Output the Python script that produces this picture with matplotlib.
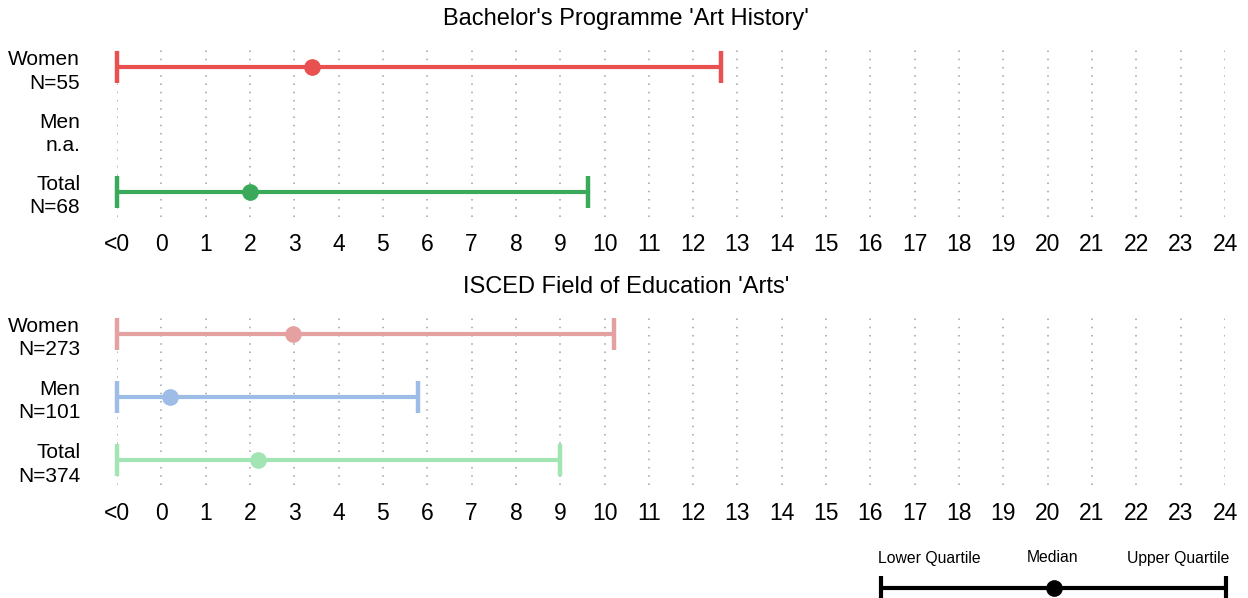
import matplotlib
matplotlib.use("Agg")
import matplotlib.pyplot as plt
import numpy as np

plt.rcParams['font.family'] = ['Liberation Sans', 'DejaVu Sans']

tick_labels = ["<0"] + [str(i) for i in range(25)]
tick_positions = list(range(-1, 25))

# Panel 1: Bachelor's Programme 'Art History'
title1 = "Bachelor's Programme 'Art History'"
groups1 = ["Women\nN=55", "Men\nn.a.", "Total\nN=68"]
lower1 = [-1, np.nan, -1]
median1 = [3.4, np.nan, 2.0]
upper1 = [12.63, np.nan, 9.62]
colors1 = ["#E8514F", "#9DBCE6", "#3AAA5A"]

# Panel 2: ISCED Field of Education 'Arts'
title2 = "ISCED Field of Education 'Arts'"
groups2 = ["Women\nN=273", "Men\nN=101", "Total\nN=374"]
lower2 = [-1, -1, -1]
median2 = [2.98, 0.2, 2.18]
upper2 = [10.22, 5.8, 9.0]
colors2 = ["#E5A1A1", "#9DBCE6", "#A3E4B5"]

W, H = 1248, 598
fig = plt.figure(figsize=(W / 100, H / 100), dpi=100)

def px_axes(x0, y0, x1, y1):
    return fig.add_axes([x0 / W, 1 - y1 / H, (x1 - x0) / W, (y1 - y0) / H])

def panel(ax, title, groups, lo, med, hi, colors, title_y, gmin, gmax):
    ax.set_xlim(-1, 24)
    ax.set_ylim(2.5, -0.5)
    for t in tick_positions:
        ax.axvline(t, ymin=gmin, ymax=gmax, color="#A0A0A0",
                   linestyle=(0, (1, 4.4)), linewidth=1.1, zorder=0)
    for i, (l, m, h, c) in enumerate(zip(lo, med, hi, colors)):
        if np.isnan(m):
            continue
        ax.errorbar([m], [i], xerr=[[m - l], [h - m]], fmt='o', color=c,
                    ecolor=c, elinewidth=3, capsize=11.5, capthick=3.2,
                    markersize=11, clip_on=False, zorder=3)
    ax.set_yticks(range(len(groups)))
    ax.set_yticklabels(groups, fontsize=15, linespacing=1.3)
    ax.set_xticks(tick_positions)
    ax.set_xticklabels(tick_labels, fontsize=16.5)
    ax.tick_params(length=0, axis='x', pad=7)
    ax.tick_params(length=0, axis='y', pad=26.5)
    for s in ax.spines.values():
        s.set_visible(False)
    ax.set_facecolor("none")
    fig.text(626 / W, 1 - title_y / H, title, ha="center",
             va="center", fontsize=17)

ax1 = px_axes(117, 36, 1225, 223)
panel(ax1, title1, groups1, lower1, median1, upper1, colors1, 19,
      (223 - 217) / 187, (223 - 44) / 187)
ax2 = px_axes(117, 302, 1225, 492)
panel(ax2, title2, groups2, lower2, median2, upper2, colors2, 287,
      (492 - 485) / 190, (492 - 312) / 190)

# Legend key
axl = px_axes(881, 570, 1226, 598)
axl.set_xlim(0, 1)
axl.set_ylim(0, 1)
axl.axis("off")
axl.errorbar([0.5], [0.35], xerr=[[0.5], [0.5]], fmt='o', color="black",
             elinewidth=3, capsize=9, capthick=3, markersize=11, clip_on=False)
for xx, lab, ha in [(878, "Lower Quartile", "left"), (1053, "Median", "center"),
                    (1229, "Upper Quartile", "right")]:
    fig.text(xx / W, 1 - 558 / H, lab, ha=ha, va="center", fontsize=11.3)

fig.savefig("out.png", dpi=100)
